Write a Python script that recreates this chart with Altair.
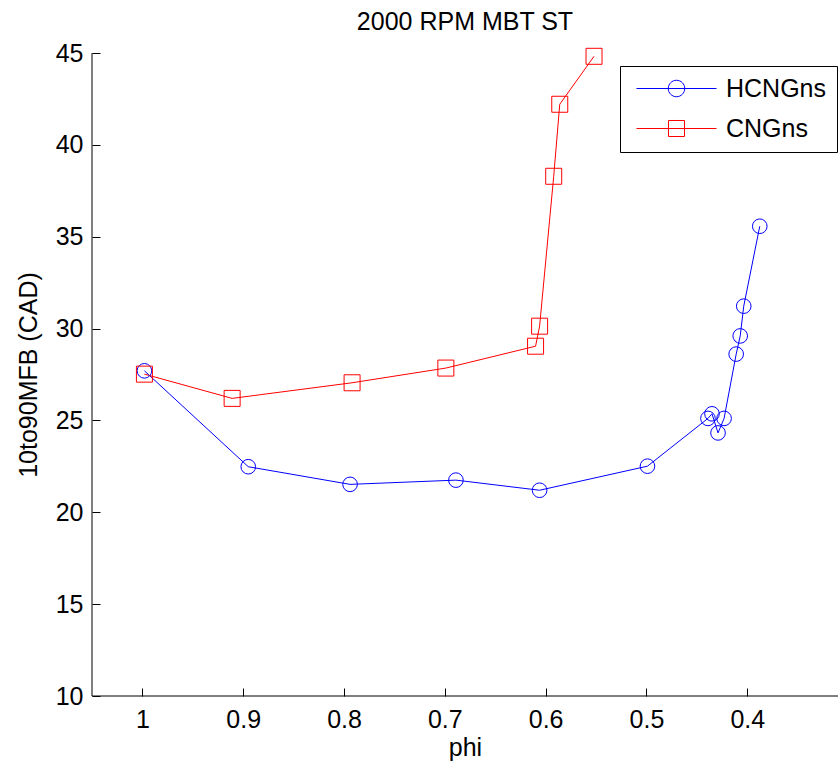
import altair as alt
import pandas as pd

# ---- data ----
series_names = ["HCNGns", "CNGns"]
hc_phi = [0.998, 0.895, 0.794, 0.689, 0.606, 0.499, 0.439, 0.435, 0.429, 0.423, 0.411, 0.407, 0.4035, 0.3876]
hc_val = [27.70, 22.48, 21.52, 21.75, 21.20, 22.51, 25.11, 25.36, 24.32, 25.11, 28.61, 29.60, 31.22, 35.57]
cng_phi = [0.998, 0.911, 0.792, 0.699, 0.610, 0.606, 0.592, 0.586, 0.552]
cng_val = [27.52, 26.20, 27.05, 27.85, 29.04, 30.13, 38.29, 42.21, 44.82]
x_ticks = [1.0, 0.9, 0.8, 0.7, 0.6, 0.5, 0.4]
y_ticks = [10, 15, 20, 25, 30, 35, 40, 45]

rows = []
for i, (p, v) in enumerate(zip(hc_phi, hc_val)):
    rows.append({"series": "HCNGns", "phi": p, "val": v, "idx": i})
for i, (p, v) in enumerate(zip(cng_phi, cng_val)):
    rows.append({"series": "CNGns", "phi": p, "val": v, "idx": i})
df = pd.DataFrame(rows)

FONT = "Liberation Sans"
FS = 25

xscale = alt.Scale(domain=[0.31, 1.05], reverse=True, nice=False, zero=False)
yscale = alt.Scale(domain=[10, 45], nice=False, zero=False)
color_scale = alt.Scale(domain=series_names, range=["#0000ff", "#ff0000"])

xaxis = alt.Axis(
    title="phi", values=x_ticks, format="~g", domain=False, offset=-8,
    tickSize=8, tickColor="black", tickWidth=1, grid=False,
    labelFont=FONT, labelFontSize=FS, labelColor="black", labelPadding=11,
    labelFlush=False, labelOverlap=False,
    titleFont=FONT, titleFontSize=FS, titleFontWeight="normal", titleColor="black",
    titlePadding=3,
)
yaxis = alt.Axis(
    title="10to90MFB (CAD)", values=y_ticks, format="d", domain=False, offset=-8,
    tickSize=8, tickColor="black", tickWidth=1, grid=False,
    labelFont=FONT, labelFontSize=FS, labelColor="black", labelPadding=9,
    labelFlush=False, labelOverlap=False,
    titleFont=FONT, titleFontSize=FS, titleFontWeight="normal", titleColor="black",
    titlePadding=14,
)

# legend glyphs: a line with the marker in its middle (unit box -1..1)
circ_path = "M-0.87,0H0.87M0.179,0A0.179,0.179,0,1,1,-0.179,0A0.179,0.179,0,1,1,0.179,0"
sq_path = "M-0.87,0H0.87M-0.174,-0.174H0.174V0.174H-0.174Z"
legend_shape_scale = alt.Scale(domain=series_names, range=[circ_path, sq_path])

legend = alt.Legend(
    title=None, orient="none", legendX=528, legendY=13,
    padding=10, fillColor="white", strokeColor="black",
    symbolSize=8464, symbolStrokeWidth=1, clipHeight=25, rowPadding=14, labelOffset=3,
    labelFont=FONT, labelFontSize=FS, labelColor="black", labelLimit=300,
)

base = alt.Chart(df)
X = alt.X("phi:Q", scale=xscale, axis=xaxis)
Y = alt.Y("val:Q", scale=yscale, axis=yaxis)
C = alt.Color("series:N", scale=color_scale, legend=legend)

line = base.mark_line(strokeWidth=1).encode(
    x=X, y=Y, color=C, order=alt.Order("idx:Q"),
)

circles = base.transform_filter("datum.series === 'HCNGns'").mark_point(
    shape="circle", filled=False, strokeWidth=1, opacity=1, size=214
).encode(x=X, y=Y, color=C)

squares = base.transform_filter("datum.series === 'CNGns'").mark_point(
    shape="square", filled=False, strokeWidth=1, opacity=1, size=256
).encode(x=X, y=Y, color=C)

legend_layer = base.transform_filter("false").mark_point(
    filled=False, strokeWidth=1, opacity=1
).encode(
    x=X, y=Y, color=C,
    shape=alt.Shape("series:N", scale=legend_shape_scale, legend=legend),
)

one = alt.Chart(pd.DataFrame({"a": [0]}))
yline = one.mark_rule(color="black", strokeWidth=1).encode(
    x=alt.XDatum(1.05, scale=xscale, axis=xaxis),
    y=alt.YDatum(10, scale=yscale, axis=yaxis),
    y2=alt.Y2Datum(45),
)
xline = one.mark_rule(color="black", strokeWidth=1).encode(
    x=alt.XDatum(1.05, scale=xscale, axis=xaxis),
    x2=alt.X2Datum(0.31),
    y=alt.YDatum(10, scale=yscale, axis=yaxis),
)

chart = alt.layer(yline, xline, legend_layer, line, circles, squares).properties(
    width=746, height=643,
    title=alt.TitleParams("2000 RPM MBT ST", font=FONT, fontSize=FS, fontWeight="normal",
                          color="black", anchor="middle", offset=12, dy=26,
                          baseline="alphabetic"),
    autosize=alt.AutoSizeParams(type="none"),
    padding={"left": 92, "top": 53, "right": 0, "bottom": 71},
    background="white",
).configure_view(stroke=None).configure_legend(strokeWidth=1, cornerRadius=0)

chart.save("out.html", embed_options={"renderer": "svg", "actions": False})
